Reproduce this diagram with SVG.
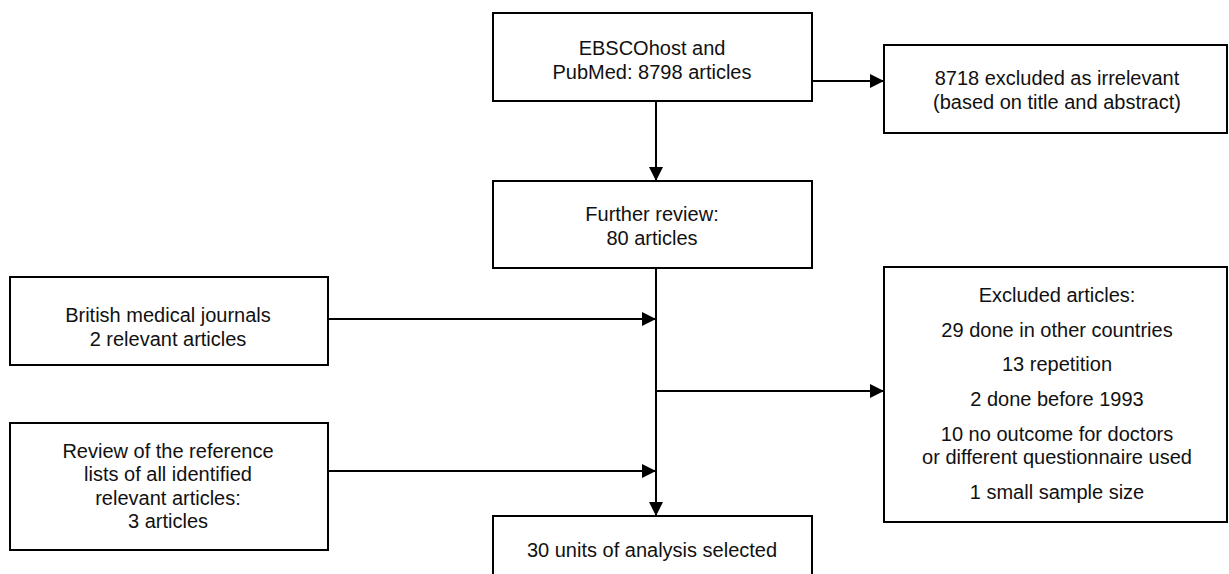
<svg xmlns="http://www.w3.org/2000/svg" width="1229" height="574" viewBox="0 0 1229 574">
<style>
.box{fill:#fff;stroke:#000;stroke-width:2}
.t{font-family:"Liberation Sans",Arial,sans-serif;font-size:20px;fill:#111;text-anchor:middle}
.c{stroke:#000;stroke-width:2;fill:none;marker-end:url(#ah)}
</style>
<defs>
<marker id="ah" markerUnits="userSpaceOnUse" markerWidth="14" markerHeight="14" refX="14" refY="7" orient="auto">
<path d="M0,0 L14,7 L0,14 z" fill="#000"/>
</marker>
</defs>
<rect width="1229" height="574" fill="#fff"/>
<g id="connectors">
<line class="c" x1="812" y1="81" x2="884" y2="81"/>
<line class="c" x1="656" y1="101" x2="656" y2="181"/>
<line class="c" x1="656" y1="268" x2="656" y2="516"/>
<line class="c" x1="328" y1="319" x2="656" y2="319"/>
<line class="c" x1="328" y1="471" x2="656" y2="471"/>
<line class="c" x1="656" y1="391" x2="884" y2="391"/>
</g>
<g id="search">
<rect class="box" x="493" y="13" width="319" height="88"/>
<text class="t" x="652" y="55">EBSCOhost and</text>
<text class="t" x="652" y="79">PubMed: 8798 articles</text>
</g>
<g id="excluded1">
<rect class="box" x="884" y="45" width="343" height="88"/>
<text class="t" x="1057" y="85">8718 excluded as irrelevant</text>
<text class="t" x="1057" y="109">(based on title and abstract)</text>
</g>
<g id="further">
<rect class="box" x="493" y="181" width="319" height="87"/>
<text class="t" x="652" y="221">Further review:</text>
<text class="t" x="652" y="245">80 articles</text>
</g>
<g id="british">
<rect class="box" x="10" y="277" width="318" height="88"/>
<text class="t" x="168" y="322">British medical journals</text>
<text class="t" x="168" y="346">2 relevant articles</text>
</g>
<g id="reflists">
<rect class="box" x="10" y="423" width="318" height="127"/>
<text class="t" x="168" y="458">Review of the reference</text>
<text class="t" x="168" y="481">lists of all identified</text>
<text class="t" x="168" y="505">relevant articles:</text>
<text class="t" x="168" y="528">3 articles</text>
</g>
<g id="excluded2">
<rect class="box" x="884" y="267" width="343" height="255"/>
<text class="t" x="1057" y="302">Excluded articles:</text>
<text class="t" x="1057" y="337">29 done in other countries</text>
<text class="t" x="1057" y="371">13 repetition</text>
<text class="t" x="1057" y="406">2 done before 1993</text>
<text class="t" x="1057" y="441">10 no outcome for doctors</text>
<text class="t" x="1057" y="464">or different questionnaire used</text>
<text class="t" x="1057" y="499">1 small sample size</text>
</g>
<g id="selected">
<rect class="box" x="493" y="516" width="319" height="90"/>
<text class="t" x="652" y="557">30 units of analysis selected</text>
</g>
</svg>
